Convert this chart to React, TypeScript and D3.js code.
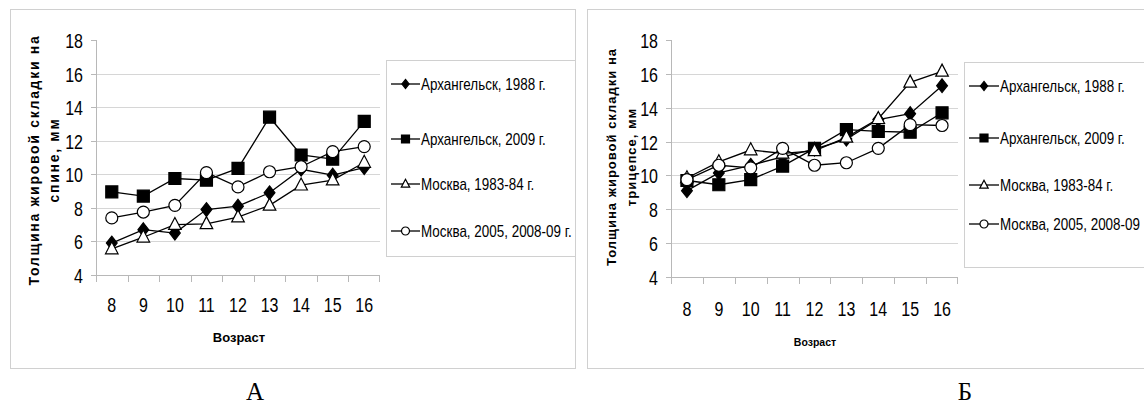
import * as d3 from "d3";

// age groups on the x axis
const ages = ["8", "9", "10", "11", "12", "13", "14", "15", "16"];
const yTicks = [4, 6, 8, 10, 12, 14, 16, 18];

const seriesNames = [
  "Архангельск, 1988 г.",
  "Архангельск, 2009 г.",
  "Москва, 1983-84 г.",
  "Москва, 2005, 2008-09 г.",
];
// the right legend is cut by the picture edge, only this much shows
const seriesNamesCut = [
  "Архангельск, 1988 г.",
  "Архангельск, 2009 г.",
  "Москва, 1983-84 г.",
  "Москва, 2005, 2008-09",
];
const markers = ["diamond", "square", "triangle", "circle"];

// panel A: skinfold on the back, mm
const backArkh1988 = [5.9, 6.7, 6.5, 7.9, 8.1, 8.9, 10.3, 9.95, 10.4];
const backArkh2009 = [8.95, 8.7, 9.75, 9.65, 10.35, 13.4, 11.15, 10.9, 13.15];
const backMsk1983 = [5.55, 6.25, 7.0, 7.05, 7.45, 8.15, 9.35, 9.65, 10.7];
const backMsk2005 = [7.4, 7.75, 8.15, 10.1, 9.25, 10.15, 10.45, 11.35, 11.65];

// panel Б: skinfold on the triceps, mm
const triArkh1988 = [9.1, 10.15, 10.6, 11.1, 11.55, 12.15, 13.3, 13.65, 15.3];
const triArkh2009 = [9.7, 9.45, 9.75, 10.55, 11.6, 12.7, 12.6, 12.55, 13.7];
const triMsk1983 = [9.85, 10.8, 11.5, 11.3, 11.45, 12.25, 13.35, 15.5, 16.15];
const triMsk2005 = [9.75, 10.6, 10.45, 11.6, 10.6, 10.75, 11.6, 13.0, 12.95];

const SANS = "'Liberation Sans', Arial, sans-serif";

// no narrow face installed, so squeeze the regular one
function Narrow({ x, y, size, scale, anchor, children }: any) {
  return (
    <text
      transform={`translate(${x},${y}) scale(${scale},1)`}
      dy="0.35em"
      textAnchor={anchor || "start"}
      fontFamily={SANS}
      fontSize={size}
    >
      {children}
    </text>
  );
}

function markerPath(kind: string, s: number) {
  const h = s / 2;
  if (kind === "diamond") return `M0,${-h * 1.15}L${h * 0.9},0L0,${h * 1.15}L${-h * 0.9},0Z`;
  if (kind === "square") return `M${-h},${-h}H${h}V${h}H${-h}Z`;
  if (kind === "triangle") return `M0,${-h * 1.2}L${h * 1.05},${h * 0.8}L${-h * 1.05},${h * 0.8}Z`;
  return d3.arc()({ innerRadius: 0, outerRadius: h, startAngle: 0, endAngle: 2 * Math.PI }) as string;
}

function Marker({ kind, x, y, s }: { kind: string; x: number; y: number; s: number }) {
  const filled = kind === "diamond" || kind === "square";
  return (
    <path
      d={markerPath(kind, s)}
      transform={`translate(${x},${y})`}
      fill={filled ? "#000" : "#fff"}
      stroke="#000"
      strokeWidth={1.2}
    />
  );
}

interface PanelProps {
  frame: [number, number, number, number];
  plot: { x0: number; x1: number; yTop: number; yBottom: number };
  series: number[][];
  names: string[];
  titleLines: string[];
  titleX: [number, number];
  titleY: number;
  titleSize: number;
  titleSpacing: number;
  xLabelY: number;
  xTitle: { x: number; y: number; size: number };
  legend: { x: number; y0: number; y1: number; x1: number; rows: number[]; textX: number };
  caption: { text: string; x: number };
}

function Panel(p: PanelProps) {
  const x = d3.scaleBand().domain(ages).range([p.plot.x0, p.plot.x1]);
  const y = d3.scaleLinear().domain([4, 18]).range([p.plot.yBottom, p.plot.yTop]);
  const cx = (i: number) => x(ages[i])! + x.bandwidth() / 2;
  const line = d3
    .line<number>()
    .x((_, i) => cx(i))
    .y((d) => y(d));
  const [fx, fy, fw, fh] = p.frame;
  const lx0 = p.legend.x + 5;
  const lx1 = p.legend.textX - 1;
  const px = (v: number) => Math.round(v) + 0.5;

  return (
    <g>
      <rect x={fx + 0.5} y={fy + 0.5} width={fw} height={fh} fill="#fff" stroke="#d0d0d0" />

      {/* grid */}
      {yTicks.slice(1, -1).map((t) => (
        <line key={t} x1={p.plot.x0} x2={p.plot.x1} y1={px(y(t))} y2={px(y(t))} stroke="#d6d6d6" />
      ))}
      {/* axes */}
      <line x1={p.plot.x0 + 0.5} x2={p.plot.x0 + 0.5} y1={y(18)} y2={y(4)} stroke="#b8b8b8" />
      <line x1={p.plot.x0} x2={p.plot.x1} y1={px(y(4))} y2={px(y(4))} stroke="#b8b8b8" />
      {yTicks.map((t) => (
        <g key={t}>
          <line x1={p.plot.x0 - 5} x2={p.plot.x0} y1={px(y(t))} y2={px(y(t))} stroke="#b8b8b8" />
          <Narrow x={p.plot.x0 - 13} y={y(t) + 1} size={20} scale={0.8} anchor="end">
            {t}
          </Narrow>
        </g>
      ))}
      {ages.map((a) => (
        <line key={"t" + a} x1={px(x(a)!)} x2={px(x(a)!)} y1={y(4)} y2={y(4) + 7} stroke="#b8b8b8" />
      ))}
      <line x1={p.plot.x1 - 0.5} x2={p.plot.x1 - 0.5} y1={y(4)} y2={y(4) + 7} stroke="#b8b8b8" />
      {ages.map((a, i) => (
        <Narrow key={"l" + a} x={cx(i)} y={p.xLabelY} size={20} scale={0.8} anchor="middle">
          {a}
        </Narrow>
      ))}

      {/* axis titles */}
      {p.titleLines.map((s, i) => (
        <text
          key={s}
          transform={`translate(${p.titleX[i]},${p.titleY}) rotate(-90)`}
          dy="0.35em"
          textAnchor="middle"
          fontFamily={SANS}
          fontWeight="bold"
          fontSize={p.titleSize}
          letterSpacing={p.titleSpacing}
        >
          {s}
        </text>
      ))}
      <text x={p.xTitle.x} y={p.xTitle.y} dy="0.35em" textAnchor="middle" fontFamily={SANS} fontWeight="bold" fontSize={p.xTitle.size}>
        Возраст
      </text>

      {/* series */}
      {p.series.map((vals, si) => (
        <g key={si}>
          <path d={line(vals)!} fill="none" stroke="#000" strokeWidth={1.3} />
          {vals.map((v, i) => (
            <Marker key={i} kind={markers[si]} x={cx(i)} y={y(v)} s={12} />
          ))}
        </g>
      ))}

      {/* legend */}
      <rect x={p.legend.x + 0.5} y={p.legend.y0 + 0.5} width={p.legend.x1 - p.legend.x} height={p.legend.y1 - p.legend.y0} fill="#fff" stroke="#d0d0d0" />
      {p.names.map((n, i) => (
        <g key={n}>
          <line x1={lx0} x2={lx1} y1={p.legend.rows[i]} y2={p.legend.rows[i]} stroke="#000" strokeWidth={1.3} />
          <Marker kind={markers[i]} x={(lx0 + lx1) / 2} y={p.legend.rows[i]} s={8} />
          <Narrow x={p.legend.textX} y={p.legend.rows[i]} size={16} scale={0.84}>
            {n}
          </Narrow>
        </g>
      ))}

      <text x={p.caption.x} y={400} textAnchor="middle" fontFamily="'Liberation Serif', 'Times New Roman', serif" fontSize={25}>
        {p.caption.text}
      </text>
    </g>
  );
}

export default function App() {
  return (
    <svg width={1144} height={405} style={{ position: "absolute", left: 0, top: 0, background: "#fff" }}>
      <rect width={1144} height={405} fill="#fff" />
      <Panel
        frame={[10, 9, 565, 359]}
        plot={{ x0: 96, x1: 380, yTop: 40, yBottom: 275 }}
        series={[backArkh1988, backArkh2009, backMsk1983, backMsk2005]}
        names={seriesNames}
        titleLines={["Толщина жировой складки на", "спине, мм"]}
        titleX={[34, 54]}
        titleY={160}
        titleSize={14}
        titleSpacing={1.7}
        xLabelY={305}
        xTitle={{ x: 239, y: 337, size: 13 }}
        legend={{ x: 386, x1: 575, y0: 60, y1: 256, rows: [84, 139, 184, 231], textX: 421 }}
        caption={{ text: "А", x: 255 }}
      />
      <Panel
        frame={[587, 9, 600, 359]}
        plot={{ x0: 671, x1: 958, yTop: 40, yBottom: 277 }}
        series={[triArkh1988, triArkh2009, triMsk1983, triMsk2005]}
        names={seriesNamesCut}
        titleLines={["Толщина жировой складки на", "трицепсе, мм"]}
        titleX={[611, 631]}
        titleY={157}
        titleSize={13}
        titleSpacing={1}
        xLabelY={309}
        xTitle={{ x: 815, y: 342, size: 10.5 }}
        legend={{ x: 964, x1: 1160, y0: 62, y1: 267, rows: [86, 138, 185, 224], textX: 1000 }}
        caption={{ text: "Б", x: 965 }}
      />
    </svg>
  );
}
